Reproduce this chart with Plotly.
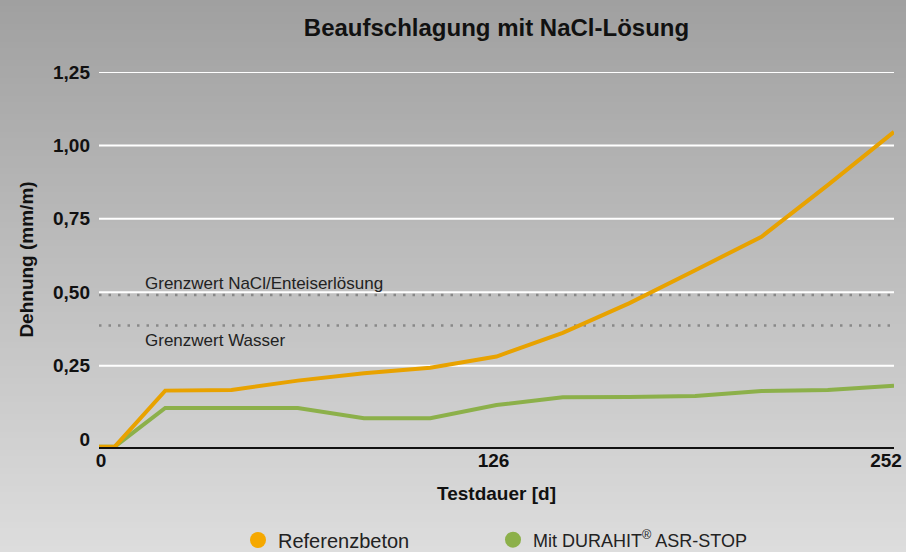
import plotly.graph_objects as go

# ---- data ----
tage = [0, 5, 21, 42, 63, 84, 105, 126, 147, 168, 189, 210, 231, 252]
referenzbeton = [-0.026, -0.026, 0.165, 0.167, 0.199, 0.224, 0.243, 0.281, 0.362, 0.462, 0.575, 0.689, 0.865, 1.046]
durahit = [-0.026, -0.026, 0.106, 0.106, 0.106, 0.071, 0.071, 0.116, 0.142, 0.143, 0.147, 0.164, 0.167, 0.182]
grenzwert_nacl = 0.491
grenzwert_wasser = 0.387
x_ticks = [0, 126, 252]
y_ticks = [0, 0.25, 0.5, 0.75, 1.0, 1.25]
y_ticklabels = ["0", "0,25", "0,50", "0,75", "1,00", "1,25"]

ORANGE = "#E8A200"
ORANGE_LEG = "#F5A800"
GREEN = "#8CB04A"
FONT = "Liberation Sans"

W, H = 906, 552
ML, MR, MT, MB = 99, 12, 72, 105
PW, PH = W - ML - MR, H - MT - MB

# label axis: tick labels sit slightly inside the data extent (as in reference)
LBL_L, LBL_R = 2, 8  # px inset of first/last label centre
s = (PW - LBL_L - LBL_R) / (x_ticks[-1] - x_ticks[0])
lbl_range = [x_ticks[0] - LBL_L / s, x_ticks[0] - LBL_L / s + PW / s]

fig = go.Figure()

# gradient background via bands
n = 92
top = (160, 160, 160)
bot = (221, 221, 221)
for i in range(n):
    p0 = i * H / n
    p1 = (i + 1) * H / n + 0.6
    t = (i + 0.5) / n
    c = tuple(round(top[k] + (bot[k] - top[k]) * t) for k in range(3))
    fig.add_shape(type="rect", xref="paper", yref="paper",
                  x0=-ML / PW - 0.02, x1=1 + MR / PW + 0.02,
                  y0=(H - MB - p1) / PH, y1=(H - MB - p0) / PH,
                  fillcolor="rgb(%d,%d,%d)" % c, line_width=0, layer="below")

# white gridlines (none at 0)
for v in y_ticks[1:]:
    fig.add_shape(type="line", xref="paper", yref="y", x0=0, x1=1, y0=v, y1=v,
                  line=dict(color="#ffffff", width=2), layer="below")

# threshold lines
for val in (grenzwert_nacl, grenzwert_wasser):
    fig.add_trace(go.Scatter(x=[tage[0], tage[-1]], y=[val, val], mode="lines",
                             line=dict(color="#888888", width=2.5, dash="2.5px,7px"),
                             showlegend=False, hoverinfo="skip"))

fig.add_trace(go.Scatter(x=tage, y=durahit, mode="lines",
                         line=dict(color=GREEN, width=4), showlegend=False))
fig.add_trace(go.Scatter(x=tage, y=referenzbeton, mode="lines",
                         line=dict(color=ORANGE, width=4), showlegend=False))

# legend entries (circles), attached to the label axis
fig.add_trace(go.Scatter(x=[None], y=[None], mode="markers", name="Referenzbeton", xaxis="x2",
                         legend="legend", marker=dict(color=ORANGE_LEG, size=16)))
fig.add_trace(go.Scatter(x=[None], y=[None], mode="markers", name="Mit DURAHIT<sup>®</sup> ASR-STOP",
                         xaxis="x2", legend="legend2", marker=dict(color=GREEN, size=16)))

fig.add_annotation(x=14, y=grenzwert_nacl, xref="x", yref="y", text="Grenzwert NaCl/Enteiserlösung",
                   showarrow=False, xanchor="left", yanchor="bottom", yshift=0,
                   font=dict(family=FONT, size=17, color="#222222"))
fig.add_annotation(x=14, y=grenzwert_wasser, xref="x", yref="y", text="Grenzwert Wasser",
                   showarrow=False, xanchor="left", yanchor="top", yshift=-4,
                   font=dict(family=FONT, size=17, color="#222222"))

fig.update_layout(
    width=W, height=H,
    margin=dict(l=ML, r=MR, t=MT, b=MB, autoexpand=False),
    paper_bgcolor="#c0c0c0",
    plot_bgcolor="rgba(0,0,0,0)",
    font=dict(family=FONT, color="#111111"),
    title=dict(text="<b>Beaufschlagung mit NaCl-Lösung</b>", x=0.5, xref="paper",
               y=1 - 28 / H, yref="container", yanchor="middle",
               font=dict(family=FONT, size=24, color="#111111")),
    showlegend=True,
    legend=dict(orientation="h", x=(238 - ML) / PW, xanchor="left", y=-0.248, yanchor="middle",
                font=dict(family=FONT, size=20, color="#222222"),
                bgcolor="rgba(0,0,0,0)"),
    legend2=dict(orientation="h", x=(493 - ML) / PW, xanchor="left", y=-0.248, yanchor="middle",
                 font=dict(family=FONT, size=18, color="#222222"),
                 bgcolor="rgba(0,0,0,0)"),
    xaxis=dict(range=[0, 252], showticklabels=False, ticks="", showgrid=False, zeroline=False,
               showline=True, linecolor="#111111", linewidth=2, automargin=False),
    xaxis2=dict(overlaying="x", anchor="y", side="bottom", range=lbl_range,
                tickvals=x_ticks, ticktext=["<b>%s</b>" % v for v in x_ticks],
                showgrid=False, zeroline=False, showline=False, automargin=False,
                tickfont=dict(family=FONT, size=19, color="#111111"),
                title=dict(text="<b>Testdauer [d]</b>", font=dict(family=FONT, size=19, color="#111111"),
                           standoff=16),
                ticklabelstandoff=0),
)

fig.update_yaxes(range=[-0.027, 1.25], tickvals=y_ticks, ticktext=["<b>%s</b>" % t for t in y_ticklabels],
                 showgrid=False, zeroline=False, showline=False, automargin=False,
                 tickfont=dict(family=FONT, size=19, color="#111111"),
                 title=dict(text="<b>Dehnung (mm/m)</b>", font=dict(family=FONT, size=19, color="#111111"),
                            standoff=14),
                 ticklabelstandoff=8)

fig.write_html("out.html", config={"displayModeBar": False},
               post_script="document.body.style.margin='0';")
